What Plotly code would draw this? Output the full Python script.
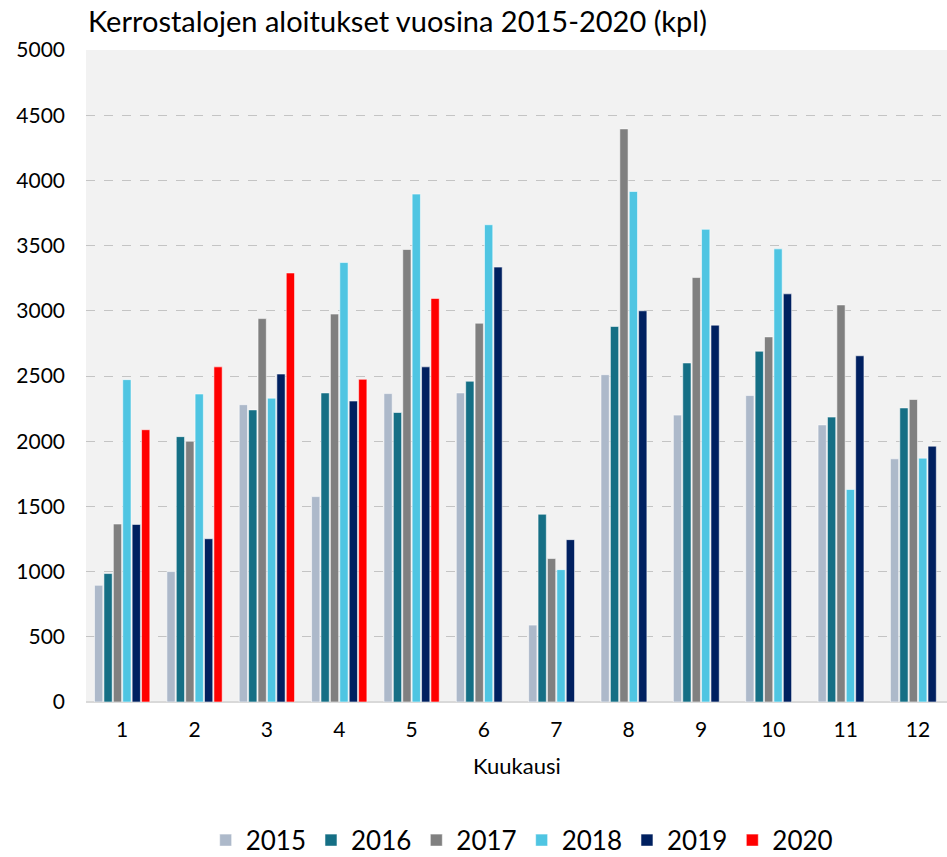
import plotly.graph_objects as go

months = [1, 2, 3, 4, 5, 6, 7, 8, 9, 10, 11, 12]
years = ["2015", "2016", "2017", "2018", "2019", "2020"]

v2015 = [895, 1000, 2280, 1575, 2365, 2370, 590, 2510, 2200, 2350, 2125, 1865]
v2016 = [985, 2035, 2240, 2370, 2220, 2460, 1440, 2880, 2600, 2690, 2185, 2255]
v2017 = [1365, 2000, 2940, 2975, 3470, 2905, 1100, 4395, 3255, 2800, 3045, 2320]
v2018 = [2472, 2362, 2330, 3370, 3895, 3660, 1015, 3915, 3625, 3475, 1630, 1870]
v2019 = [1362, 1252, 2515, 2308, 2570, 3335, 1245, 3000, 2890, 3130, 2655, 1962]
v2020 = [2088, 2570, 3290, 2475, 3095, None, None, None, None, None, None, None]

series = [v2015, v2016, v2017, v2018, v2019, v2020]
colors = ["#ADB9CA", "#156F85", "#808080", "#4FC5E2", "#002060", "#FF0000"]

FONT = "Lato, 'DejaVu Sans', sans-serif"

W, H = 947, 857

fig = go.Figure()
for name, vals, col in zip(years, series, colors):
    fig.add_trace(go.Bar(
        x=months, y=vals, name=name,
        marker=dict(color=col, line=dict(color="rgba(255,255,255,0.55)", width=1)),
    ))

fig.update_layout(
    width=W, height=H,
    margin=dict(l=86, r=0, t=50, b=155, autoexpand=False),
    paper_bgcolor="white",
    plot_bgcolor="#F2F2F2",
    barmode="group",
    bargap=0.22,
    bargroupgap=0.12,
    font=dict(family=FONT, color="#000000", size=21),
    title=dict(
        text="Kerrostalojen aloitukset vuosina 2015-2020 (kpl)",
        x=88 / W, xanchor="left", xref="container",
        y=1 - 22 / H, yanchor="middle", yref="container",
        pad=dict(t=0, b=0, l=0, r=0),
        font=dict(family=FONT, size=29, color="#000000"),
    ),
    showlegend=True,
    legend=dict(
        orientation="h",
        x=0.506, xanchor="center",
        y=-0.212, yanchor="middle",
        font=dict(family=FONT, size=26, color="#000000"),
        itemwidth=30,
        traceorder="normal",
    ),
    xaxis=dict(
        range=[0.5, 12.4],
        automargin=False,
        tickmode="array",
        tickvals=months,
        ticktext=[str(m) for m in months],
        showgrid=False,
        zeroline=False,
        showline=False,
        ticks="",
        ticklabelstandoff=13,
        tickfont=dict(family=FONT, size=21),
    ),
    yaxis=dict(
        range=[0, 5000],
        automargin=False,
        tickmode="array",
        tickvals=[0, 500, 1000, 1500, 2000, 2500, 3000, 3500, 4000, 4500, 5000],
        showgrid=True,
        gridcolor="#C4C4C4",
        griddash="dash",
        gridwidth=1,
        zeroline=True,
        zerolinecolor="#D9D9D9",
        zerolinewidth=2,
        ticks="",
        ticklabelstandoff=20,
        tickfont=dict(family=FONT, size=21),
    ),
    annotations=[dict(
        text="Kuukausi", xref="paper", yref="paper",
        x=0.5, y=-63 / 652, xanchor="center", yanchor="middle",
        showarrow=False, font=dict(family=FONT, size=22, color="#000000"),
    )],
)

fig.write_html(
    "out.html",
    config={"displayModeBar": False},
    post_script="document.body.style.margin='0';document.body.style.overflow='hidden';",
)
